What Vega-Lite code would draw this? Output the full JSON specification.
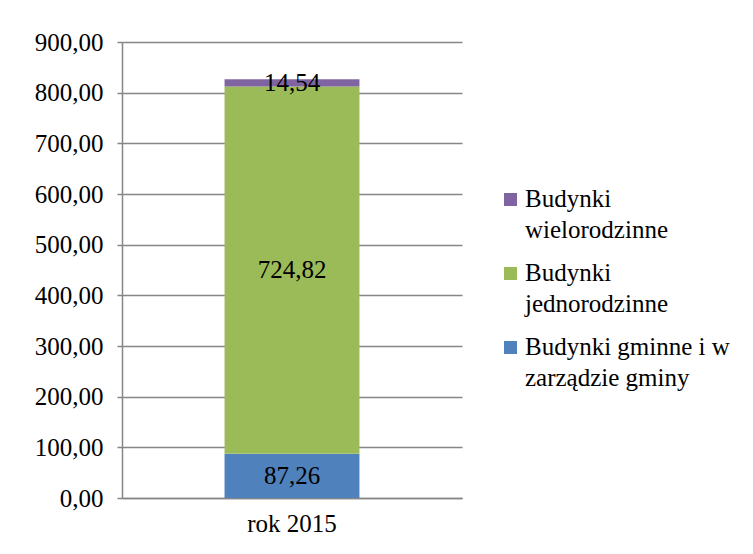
{
  "$schema": "https://vega.github.io/schema/vega-lite/v6.json",
  "width": 340,
  "height": 456,
  "autosize": {"type": "none"},
  "padding": {"left": 122, "top": 42, "right": 291, "bottom": 56},
  "background": "white",
  "config": {
    "locale": {"number": {"decimal": ",", "thousands": " ", "grouping": [3], "currency": ["", ""]}},
    "view": {"stroke": null},
    "font": "Times New Roman, Liberation Serif, serif"
  },
  "data": {
    "values": [
      {"year": "rok 2015", "category": "Budynki gminne i w zarządzie gminy", "value": 87.26, "order": 1},
      {"year": "rok 2015", "category": "Budynki jednorodzinne", "value": 724.82, "order": 2},
      {"year": "rok 2015", "category": "Budynki wielorodzinne", "value": 14.54, "order": 3}
    ]
  },
  "layer": [
    {
      "mark": {"type": "bar"},
      "encoding": {
        "x": {
          "field": "year", "type": "nominal",
          "scale": {"paddingInner": 0, "paddingOuter": 0.76},
          "axis": {
            "title": null, "labelAngle": 0, "labelFontSize": 25, "labelColor": "black",
            "labelFont": "Times New Roman, Liberation Serif, serif", "ticks": false, "labelPadding": 13,
            "domainColor": "#868686", "domainWidth": 1.5
          }
        },
        "y": {
          "field": "value", "type": "quantitative", "stack": "zero",
          "scale": {"domain": [0, 900], "nice": false},
          "axis": {
            "title": null, "values": [0, 100, 200, 300, 400, 500, 600, 700, 800, 900],
            "format": ",.2f", "labelFontSize": 25, "labelColor": "black", "labelFont": "Times New Roman, Liberation Serif, serif",
            "tickSize": 5, "tickColor": "#868686", "tickWidth": 1.5, "labelPadding": 14,
            "domainColor": "#868686", "domainWidth": 1.5,
            "gridColor": "#868686", "gridWidth": 1.5
          }
        },
        "color": {
          "field": "category", "type": "nominal",
          "scale": {
            "domain": ["Budynki wielorodzinne", "Budynki jednorodzinne", "Budynki gminne i w zarządzie gminy"],
            "range": ["#8064A2", "#9BBB59", "#4F81BD"]
          },
          "legend": {
            "orient": "none", "legendX": 376, "legendY": 145,
            "title": null, "symbolType": "square", "symbolSize": 170, "symbolStrokeWidth": 0,
            "labelFontSize": 25, "labelFont": "Times New Roman, Liberation Serif, serif", "labelColor": "black",
            "labelLimit": 300, "labelOffset": 2, "rowPadding": 17, "labelBaseline": "top",
            "labelExpr": "datum.label == 'Budynki wielorodzinne' ? ['Budynki', 'wielorodzinne'] : datum.label == 'Budynki jednorodzinne' ? ['Budynki', 'jednorodzinne'] : ['Budynki gminne i w', 'zarządzie gminy']",
            "encode": {"labels": {"update": {"lineHeight": {"value": 31}, "dy": {"value": -13}}}}
          }
        },
        "order": {"field": "order"}
      }
    },
    {
      "transform": [
        {"stack": "value", "groupby": ["year"], "sort": [{"field": "order"}], "as": ["v0", "v1"]},
        {"fold": ["v0", "v1"], "as": ["edge", "pos"]},
        {"aggregate": [{"op": "mean", "field": "pos", "as": "mid"}], "groupby": ["year", "category", "value"]}
      ],
      "mark": {"type": "text", "fontSize": 25, "font": "Times New Roman, Liberation Serif, serif", "color": "black", "baseline": "middle"},
      "encoding": {
        "x": {"field": "year", "type": "nominal"},
        "y": {"field": "mid", "type": "quantitative"},
        "text": {"field": "value", "type": "quantitative", "format": ",.2f"}
      }
    }
  ]
}
